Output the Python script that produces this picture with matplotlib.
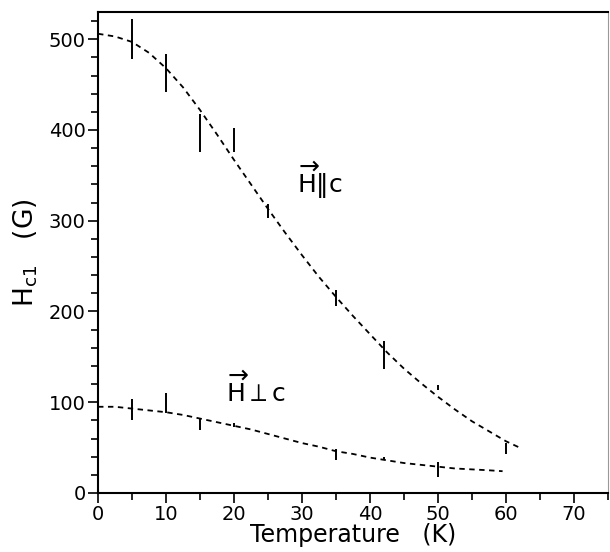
import matplotlib
matplotlib.use('Agg')
import matplotlib.pyplot as plt
from matplotlib.ticker import MultipleLocator

# measured Hc1 with error bars
t_par = [5, 10, 15, 20, 25, 35, 42, 50, 60]
h_par = [500, 463, 397, 389, 311, 215, 152, 116, 49]
e_par = [22, 21, 21, 13, 7.5, 9, 15, 3, 6]

t_perp = [5, 10, 15, 20, 35, 42, 50]
h_perp = [92, 99, 76, 75, 42, 38, 26]
e_perp = [11.5, 11, 6.5, 2.5, 6, 2, 8]

# fitted curves
fit_t_par = [0, 2.5, 5, 7.5, 10, 12.5, 15, 17.5, 20, 22.5, 25, 27.5, 30, 32.5,
             35, 37.5, 40, 42.5, 45, 47.5, 50, 52.5, 55, 57.5, 60, 62]
fit_h_par = [506, 503, 497, 485, 468, 447, 422, 395, 367, 340, 313, 287, 262, 238,
             216, 195, 175, 155, 137, 121, 106, 92, 79, 68, 57, 50]

fit_t_perp = [0, 2.5, 5, 7.5, 10, 12.5, 15, 17.5, 20, 22.5, 25, 27.5, 30, 32.5,
              35, 37.5, 40, 42.5, 45, 47.5, 50, 52.5, 55, 57.5, 59.5]
fit_h_perp = [95, 95, 93, 91, 89, 86, 82, 78, 74, 70, 65, 60, 55, 51,
              46, 43, 39, 36, 33, 31, 29, 27, 26, 25, 24]

fig = plt.figure(figsize=(6.10, 5.52), dpi=100)
ax = fig.add_axes([0.1607, 0.1069, 0.836, 0.8714])

ax.plot(fit_t_par, fit_h_par, color='black', lw=1.3, ls=(0, (3, 2.5)))
ax.plot(fit_t_perp, fit_h_perp, color='black', lw=1.3, ls=(0, (3, 2.5)))
ax.errorbar(t_par, h_par, yerr=e_par, fmt='none', ecolor='black', elinewidth=1.4, capsize=0)
ax.errorbar(t_perp, h_perp, yerr=e_perp, fmt='none', ecolor='black', elinewidth=1.4, capsize=0)

ax.text(29.3, 330, r'$\overrightarrow{\mathrm{H}}\Vert\mathrm{c}$', fontsize=18)
ax.text(18.8, 100, r'$\overrightarrow{\mathrm{H}}\perp\mathrm{c}$', fontsize=18)

ax.set_xlim(0, 75)
ax.set_ylim(0, 530)
ax.xaxis.set_major_locator(MultipleLocator(10))
ax.xaxis.set_minor_locator(MultipleLocator(5))
ax.yaxis.set_major_locator(MultipleLocator(100))
ax.yaxis.set_minor_locator(MultipleLocator(20))
ax.tick_params(which='both', direction='out', top=False, right=False, width=1.2, labelsize=14)
ax.tick_params(which='major', length=7, pad=2)
ax.tick_params(which='minor', length=5)

ax.set_xlabel('Temperature   (K)', fontsize=17)
ax.xaxis.set_label_coords(0.5, -0.062)
ax.set_ylabel(r'$\mathrm{H_{c1}}$   (G)', fontsize=19, labelpad=6)

for side in ['left', 'bottom', 'top']:
    ax.spines[side].set_linewidth(1.5)
ax.spines['right'].set_linewidth(0.8)
ax.spines['right'].set_color('#999999')

fig.savefig('out.png', dpi=100)
